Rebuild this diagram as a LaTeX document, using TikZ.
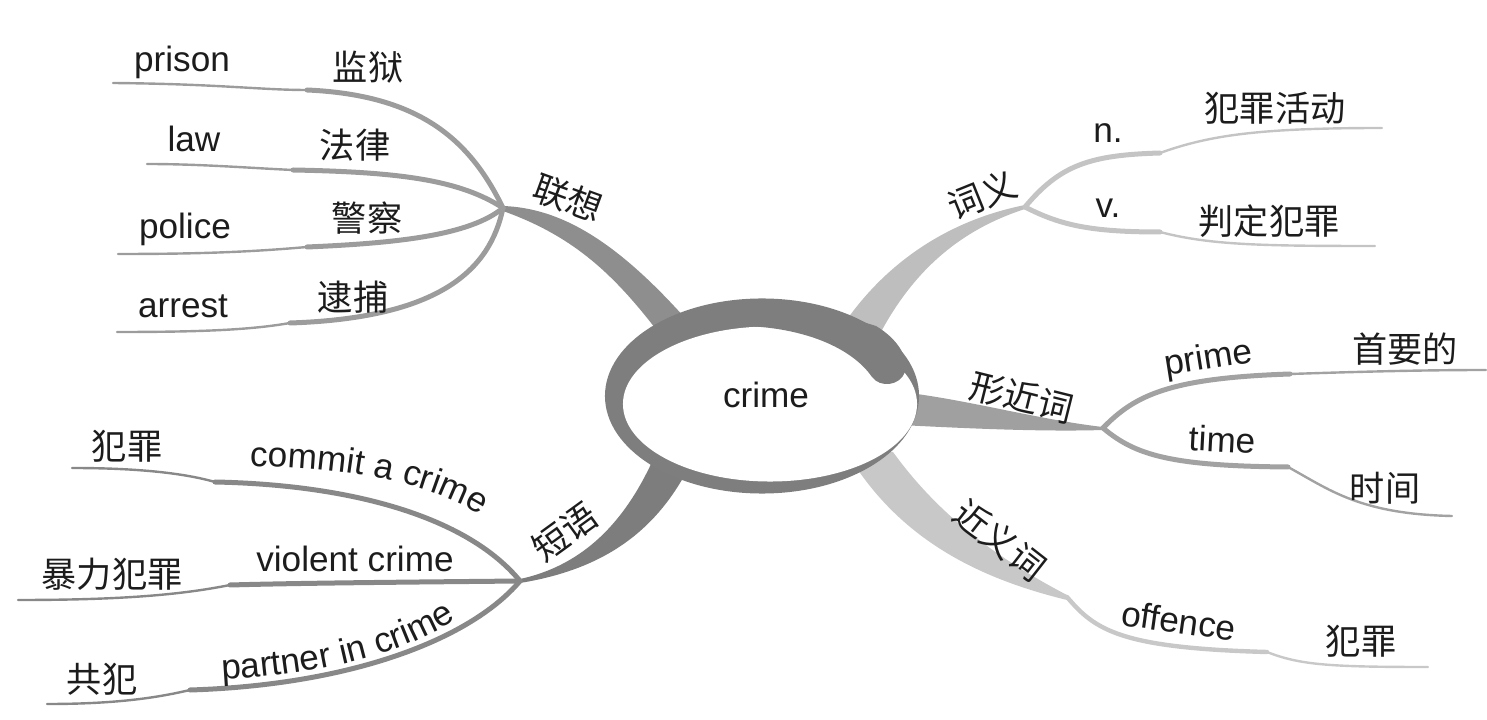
\documentclass[tikz,border=0pt]{standalone}
\usepackage{fontspec}
\setmainfont{Liberation Sans}
\newfontfamily\zhfont{Noto Sans CJK SC}
\usetikzlibrary{decorations.text}
\definecolor{txt}{RGB}{28,28,28}
\definecolor{ringc}{RGB}{126,126,126}
\definecolor{lxm}{RGB}{142,142,142}
\definecolor{lxs}{RGB}{156,156,156}
\definecolor{cym}{RGB}{190,190,190}
\definecolor{cys}{RGB}{196,196,196}
\definecolor{xjm}{RGB}{160,160,160}
\definecolor{xjs}{RGB}{162,162,162}
\definecolor{jym}{RGB}{200,200,200}
\definecolor{dym}{RGB}{125,125,125}
\definecolor{dys}{RGB}{136,136,136}
\begin{document}
\begin{tikzpicture}[x=0.025cm,y=-0.025cm,
  lat/.style={font=\fontsize{25}{30}\selectfont,anchor=base,inner sep=0pt,text=txt},
  zh/.style={font=\zhfont\fontsize{25}{30}\selectfont,inner sep=0pt,text=txt},
  subin/.style={line width=1.25mm,line cap=round},
  subout/.style={line width=0.6mm,line cap=round},
  curvetext/.style={decorate,decoration={text along path,text align=center,text color=txt,
     text={|\fontsize{25}{30}\selectfont|#1}}}]
\useasboundingbox (0,0) rectangle (1487,720);

% ---------- hubs and end points ----------
\coordinate (lx) at (503,208);
\coordinate (cy) at (1025,207);
\coordinate (xj) at (1103,428);
\coordinate (dy) at (520,581);
\coordinate (jyk1) at (1067,597);
\coordinate (jyk2) at (1267,652);
\coordinate (jye) at (1428,667);

\coordinate (lxpk) at (307,90);  \coordinate (lxpe) at (113,83);
\coordinate (lxlk) at (293,170); \coordinate (lxle) at (147,164);
\coordinate (lxok) at (307,247); \coordinate (lxoe) at (118,254);
\coordinate (lxak) at (290,323); \coordinate (lxae) at (117,332);

\coordinate (cynk) at (1160,153); \coordinate (cyne) at (1382,128);
\coordinate (cyvk) at (1160,232); \coordinate (cyve) at (1375,246);

\coordinate (xjpk) at (1290,374); \coordinate (xjpe) at (1486,370);
\coordinate (xjtk) at (1288,467); \coordinate (xjte) at (1452,516);

\coordinate (dyck) at (215,482); \coordinate (dyce) at (72,468);
\coordinate (dyvk) at (230,585); \coordinate (dyve) at (18,600);
\coordinate (dypk) at (190,690); \coordinate (dype) at (47,704);

% ---------- main tapered branches ----------
\fill[lxm] (503,206) .. controls (560,208) and (615,240) .. (685,318) -- (700,345) -- (665,350) -- (655,328) .. controls (610,270) and (570,235) .. (503,211) -- cycle;
\fill[cym] (1025,205) .. controls (950,220) and (890,260) .. (848,318) -- (835,345) -- (875,350) -- (882,330) .. controls (915,270) and (960,230) .. (1025,209) -- cycle;
\fill[xjm] (1103,427) .. controls (1040,420) and (960,398) .. (900,392) -- (880,392) -- (880,426) -- (900,425) .. controls (960,428) and (1040,432) .. (1103,430) -- cycle;
\fill[jym] (893,452) .. controls (935,510) and (990,555) .. (1067,595) -- (1067,600) .. controls (985,580) and (910,545) .. (858,470) -- (860,450) -- cycle;
\fill[dym] (520,579) .. controls (585,565) and (625,520) .. (652,462) -- (665,440) -- (695,455) -- (683,478) .. controls (650,535) and (600,570) .. (520,583) -- cycle;

% ---------- sub branches ----------
% lianxiang
\draw[lxs,subin] (lx) .. controls (470,140) and (420,95) .. (lxpk);
\draw[lxs,subout] (lxpk) .. controls (260,90) and (220,84) .. (lxpe);
\draw[lxs,subin] (lx) .. controls (460,180) and (400,172) .. (lxlk);
\draw[lxs,subout] (lxlk) .. controls (250,168) and (200,164) .. (lxle);
\draw[lxs,subin] (lx) .. controls (470,235) and (400,243) .. (lxok);
\draw[lxs,subout] (lxok) .. controls (250,252) and (200,254) .. (lxoe);
\draw[lxs,subin] (lx) .. controls (490,270) and (440,318) .. (lxak);
\draw[lxs,subout] (lxak) .. controls (250,330) and (200,332) .. (lxae);
% ciyi
\draw[cys,subin] (cy) .. controls (1060,165) and (1090,155) .. (cynk);
\draw[cys,subout] (cynk) .. controls (1210,135) and (1260,128) .. (cyne);
\draw[cys,subin] (cy) .. controls (1060,225) and (1090,232) .. (cyvk);
\draw[cys,subout] (cyvk) .. controls (1210,245) and (1260,246) .. (cyve);
% xingjinci
\draw[xjs,subin] (xj) .. controls (1135,395) and (1170,378) .. (xjpk);
\draw[xjs,subout] (xjpk) .. controls (1350,372) and (1420,370) .. (xjpe);
\draw[xjs,subin] (xj) .. controls (1135,455) and (1170,466) .. (xjtk);
\draw[xjs,subout] (xjtk) .. controls (1330,490) and (1360,514) .. (xjte);
% jinyici
\draw[jym,line width=1.1mm,line cap=round] (jyk1) .. controls (1095,630) and (1120,648) .. (jyk2);
\draw[jym,subout] (jyk2) .. controls (1300,665) and (1330,667) .. (jye);
% duanyu
\draw[dys,subin] (dy) .. controls (470,520) and (360,485) .. (dyck);
\draw[dys,subout] (dyck) .. controls (180,472) and (130,468) .. (dyce);
\draw[dys,subin] (dy) .. controls (420,582) and (300,583) .. (dyvk);
\draw[dys,subout] (dyvk) .. controls (180,595) and (120,600) .. (dyve);
\draw[dys,subin] (dy) .. controls (470,640) and (350,685) .. (dypk);
\draw[dys,subout] (dypk) .. controls (160,697) and (120,704) .. (dype);

% ---------- central ring ----------
\fill[ringc] (762,396) ellipse [x radius=3.925cm, y radius=2.4375cm];
\fill[white] (770,404) ellipse [x radius=3.675cm, y radius=1.9375cm];
\fill[ringc] (740,320) -- (745,326) .. controls (805,328) and (852,348) .. (872,377)
   .. controls (880,388) and (900,386) .. (905,372)
   .. controls (909,356) and (896,338) .. (876,326) -- (850,318) -- (760,306) -- cycle;
\node[lat] (crime) at (766,408) {crime};

% ---------- branch labels ----------
\node[zh,rotate=-20] (lxl) at (568,198) {联想};
\node[zh,rotate=22] (cyl) at (982,195) {词义};
\node[zh,rotate=-14] (xjl) at (1022,397) {形近词};
\node[zh,rotate=-38] (jyl) at (1000,540) {近义词};
\node[zh,rotate=36] (dyl) at (565,532) {短语};

% lianxiang leaves
\node[lat] (prison) at (182,72) {prison};
\node[lat] (law) at (194,152) {law};
\node[lat] (police) at (185,239) {police};
\node[lat] (arrest) at (183,318) {arrest};
\node[zh] (jianyu) at (368,67) {监狱};
\node[zh] (falv) at (355,145) {法律};
\node[zh] (jingcha) at (367,218) {警察};
\node[zh] (daibu) at (353,297) {逮捕};

% ciyi leaves
\node[lat] (n) at (1108,143) {n.};
\node[lat] (v) at (1108,218) {v.};
\node[zh] (fzhd) at (1275,108) {犯罪活动};
\node[zh] (pdfz) at (1269,221) {判定犯罪};

% xingjinci leaves
\node[lat,rotate=9] (prime) at (1210,369) {prime};
\node[lat,rotate=-3] (time) at (1222,452) {time};
\node[zh] (shouyao) at (1405,349) {首要的};
\node[zh] (shijian) at (1385,488) {时间};

% jinyici leaves
\node[lat,rotate=-8] (offence) at (1177,633) {offence};
\node[zh] (fz2) at (1361,641) {犯罪};

% duanyu leaves
\path[curvetext={commit a crime}] (238,466) .. controls (330,466) and (430,478) .. (490,522);
\node[lat] (violent) at (355,572) {violent crime};
\path[curvetext={partner in crime}] (215,680) .. controls (300,676) and (400,660) .. (462,615);
\node[zh] (fz1) at (127,446) {犯罪};
\node[zh] (blfz) at (112,574) {暴力犯罪};
\node[zh] (gongfan) at (102,679) {共犯};
\end{tikzpicture}
\end{document}
